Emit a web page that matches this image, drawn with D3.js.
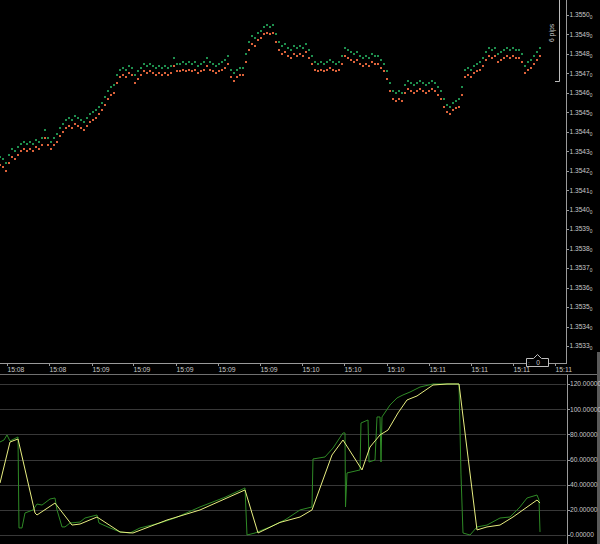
<!DOCTYPE html>
<html><head><meta charset="utf-8">
<script src="https://cdn.jsdelivr.net/npm/d3@7"></script>
<style>html,body{margin:0;padding:0;background:#000;overflow:hidden}svg{display:block}</style>
</head><body>
<svg id="c" width="600" height="544"></svg>
<script>
// Ask price in pipettes above 1.35400, one value per tick index
const askPips=[27,26,24,28,31,30,32,34,35,34,35,34,36,35,37,41,37,35,37,39,
42,44,46,47,46,48,47,46,45,47,49,50,51,53,55,58,61,63,64,69,
72,73,72,74,73,69,71,73,75,74,75,74,73,74,73,74,73,74,78,75,
75,76,75,76,75,76,74,75,76,78,76,75,74,75,76,77,79,72,70,72,
73,73,80,86,89,88,91,92,94,95,94,95,90,86,84,85,83,82,84,83,
84,83,85,82,79,76,75,76,75,76,77,76,75,76,79,83,82,81,80,81,
79,78,79,78,80,79,79,77,75,71,65,61,60,61,60,64,66,65,64,65,
66,65,64,65,66,65,63,61,57,54,53,55,56,57,63,72,73,72,74,75,
76,78,81,83,82,83,80,81,82,83,82,83,82,82,80,74,76,77,79,81,83];
const spreadPips=4;
const priceTicks=[1.3550,1.3549,1.3548,1.3547,1.3546,1.3545,1.3544,1.3543,1.3542,1.3541,1.3540,1.3539,1.3538,1.3537,1.3536,1.3535,1.3534,1.3533];
const timeTickIdx=[2.3,16.3,30.7,44.3,58.7,72.7,86.7,100.7,114.7,129,143,157,171,185];
const timeLabels=["15:08","15:08","15:09","15:09","15:09","15:09","15:09","15:10","15:10","15:10","15:11","15:11","15:11","15:11"];
const oscTicks=[0,20,40,60,80,100,120];
// oscillator lines: [tick index, value]
const yellowLine=[[0,41.3],[3.33,73.9],[6,76.3],[11.67,17.5],[12.33,15.9],[18.33,25.4],[24,7.9],[26.67,8.7],[32.33,14.3],[40,2.4],[44.33,1.6],[55.67,11.9],[66.67,19.9],[81.67,35.8],[86,1.6],[93.33,10],[100,14.3],[104,19.9],[110.67,63.6],[114.33,75.5],[120.67,51.7],[123.33,69.9],[126.67,79.5],[129.33,83.4],[132.67,97],[135.67,107.3],[139,110.5],[144.33,119.2],[149,120],[153,120],[159,4],[162.33,6.4],[166.67,7.9],[171,14.3],[179,27.8],[180,25.4]];
const greenLine=[[0,73.9],[1.33,75.5],[2.33,79.5],[3.33,74.7],[6,77.9],[6.33,5.6],[7.33,5.6],[8.33,17.5],[11,19.9],[12.33,24.6],[14,23.8],[16.67,28.6],[18.33,29.4],[19,19.9],[20,11.9],[20.67,6.4],[21.67,6.4],[23.33,9.5],[26.67,10.3],[28.33,13.5],[32.33,15.9],[33,9.5],[36.67,5.6],[40,2.4],[43.33,1.6],[46.67,5.6],[53.33,9.5],[58.33,13.5],[66.67,22.3],[75,30],[81.67,37.4],[82.33,0],[85,1.6],[90,6.4],[95,12],[100,19.9],[104,22.3],[104.33,60.4],[108.33,62],[111,69.1],[114.33,81.1],[115,81.1],[115.17,22.3],[115.67,49.3],[120,51.7],[120.33,89],[122.67,91.4],[123,58],[125,59.6],[125.67,93.8],[126.67,93.8],[127,58],[127.33,93.8],[130,103.3],[132.33,108.9],[134.33,111.3],[136.67,113.6],[140,117.6],[144.33,120],[153,120],[153.67,47.7],[154.33,1.6],[156.67,0],[159,6.4],[162.33,7.9],[166.67,13.5],[170,14.3],[173.33,22.3],[175.67,29.4],[179,31.8],[179.67,27.8],[180,2.4]];
const pipsLabel="6 pips";
const markerLabel="0";

const svg=d3.select("#c");
const FONT="'Liberation Sans', Arial, sans-serif";
const TXT="#c8c8c8", AX="#9a9a9a";
svg.append("rect").attr("width",600).attr("height",544).attr("fill","#000");

const x=d3.scaleLinear().domain([0,189]).range([0,567]);
const yP=d3.scaleLinear().domain([1.3533,1.3550]).range([346,15]);
const yO=d3.scaleLinear().domain([0,120]).range([535,384]);

// lower panel grid
const gO=svg.append("g");
gO.selectAll("line.grid").data(oscTicks).join("line")
 .attr("x1",0).attr("x2",566).attr("y1",d=>Math.round(yO(d))+0.5).attr("y2",d=>Math.round(yO(d))+0.5)
 .attr("stroke","#383838").attr("stroke-width",1);

// price dots
const ask=askPips.map((v,i)=>({i,p:1.354+v/100000}));
const bid=askPips.map((v,i)=>({i,p:1.354+(v-spreadPips)/100000}));
svg.append("g").selectAll("rect").data(ask).join("rect")
 .attr("x",d=>Math.round(x(d.i))-1).attr("y",d=>Math.round(yP(d.p))-1).attr("width",2).attr("height",2).attr("fill","#1f8f4e");
svg.append("g").selectAll("rect").data(bid).join("rect")
 .attr("x",d=>Math.round(x(d.i))-1).attr("y",d=>Math.round(yP(d.p))-1).attr("width",2).attr("height",2).attr("fill","#dc623a");

// price axis
svg.append("line").attr("x1",566.5).attr("x2",566.5).attr("y1",0).attr("y2",363).attr("stroke",AX);
const pa=svg.append("g");
pa.selectAll("line").data(priceTicks).join("line")
 .attr("x1",567).attr("x2",569).attr("y1",d=>Math.round(yP(d))+0.5).attr("y2",d=>Math.round(yP(d))+0.5).attr("stroke",AX);
const pt=pa.selectAll("text").data(priceTicks).join("text")
 .attr("x",569.5).attr("y",d=>yP(d)+2.3).attr("font-family",FONT).attr("font-size",6.6).attr("fill",TXT);
pt.append("tspan").text(d=>d.toFixed(4));
pt.append("tspan").attr("font-size",4.8).attr("dy",1.5).text("0");

// time axis
svg.append("line").attr("x1",0).attr("x2",567).attr("y1",363.5).attr("y2",363.5).attr("stroke",AX);
const ta=svg.append("g");
ta.selectAll("line").data(timeTickIdx).join("line")
 .attr("x1",d=>Math.round(x(d))+0.5).attr("x2",d=>Math.round(x(d))+0.5).attr("y1",364).attr("y2",366).attr("stroke",AX);
ta.selectAll("text").data(timeTickIdx).join("text")
 .attr("x",d=>x(d)+0.5).attr("y",372).attr("font-family",FONT).attr("font-size",6.8).attr("fill",TXT)
 .text((d,i)=>timeLabels[i]);

// separator and lower axis
svg.append("line").attr("x1",0).attr("x2",598).attr("y1",374.5).attr("y2",374.5).attr("stroke","#707070");
svg.append("line").attr("x1",567.5).attr("x2",567.5).attr("y1",375).attr("y2",544).attr("stroke",AX);
svg.append("rect").attr("x",597).attr("y",352).attr("width",3).attr("height",192).attr("fill","#5a5a5a");
const oa=svg.append("g");
oa.selectAll("line").data(oscTicks).join("line")
 .attr("x1",567).attr("x2",570).attr("y1",d=>Math.round(yO(d))+0.5).attr("y2",d=>Math.round(yO(d))+0.5).attr("stroke",AX);
oa.selectAll("text").data(oscTicks).join("text")
 .attr("x",570).attr("y",d=>yO(d)+2.4).attr("font-family",FONT).attr("font-size",6.6).attr("fill",TXT)
 .text(d=>d.toFixed(5));

// oscillator lines
const line=d3.line().x(d=>x(d[0])).y(d=>yO(d[1]));
svg.append("path").attr("d",line(greenLine)).attr("fill","none").attr("stroke","#2f8a26").attr("stroke-width",1);
svg.append("path").attr("d",line(yellowLine)).attr("fill","none").attr("stroke","#e8ee80").attr("stroke-width",1);

// 6 pips bracket
svg.append("path").attr("d","M559.5,0 V81.5 H555").attr("fill","none").attr("stroke","#bdbdbd");
svg.append("text").attr("transform","translate(554,33) rotate(-90)").attr("text-anchor","middle")
 .attr("font-family",FONT).attr("font-size",6.8).attr("fill",TXT).text(pipsLabel);

// bottom marker
svg.append("path").attr("d","M526.5,358.5 H533.5 L537.5,354.5 L541.5,358.5 H548.5 V366.5 H526.5 Z")
 .attr("fill","#000").attr("stroke","#bdbdbd");
svg.append("text").attr("x",538).attr("y",364.8).attr("text-anchor","middle").attr("font-family",FONT)
 .attr("font-size",6.6).attr("fill",TXT).text(markerLabel);
svg.append("text").attr("x",528).attr("y",364.5).attr("font-family",FONT)
 .attr("font-size",6).attr("fill",TXT).text(":");
</script>
</body></html>
